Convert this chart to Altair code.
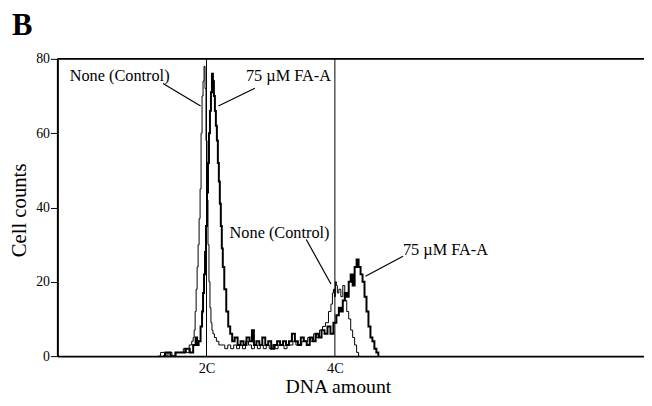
import altair as alt
import pandas as pd

# ---- data (channel units along the DNA axis, counts on y) ----
ctrl_ch = [100, 105, 108, 112, 116, 120, 124, 127, 130, 133, 135, 136, 137, 138, 139, 140, 141, 142, 143, 144,
           145, 146, 147, 148, 149, 150, 151, 152, 153, 154, 155, 156, 158, 160,
           163, 166, 169, 172, 175, 178, 181, 184, 187, 190, 193, 196, 199, 202, 205, 208, 211, 214, 217, 220,
           223, 226, 229, 232, 235, 238, 241, 244, 247, 250, 253, 256, 259, 262, 265, 268, 271, 274,
           276, 277, 278, 279, 280, 281, 282, 284, 286, 288, 290, 292, 294, 296, 298, 300, 302, 304]
ctrl_n = [0, 1, 0, 1, 0, 1, 1, 2, 1, 3, 4, 5, 7, 12, 18, 24, 30, 37, 45, 60,
          70, 74, 78, 72, 58, 42, 30, 20, 13, 9, 7, 6, 5, 4,
          3, 3, 2, 3, 2, 3, 2, 3, 2, 4, 3, 2, 3, 2, 3, 2, 3, 2, 3, 2,
          3, 3, 2, 3, 3, 4, 3, 3, 4, 4, 5, 4, 6, 5, 7, 8, 9, 12,
          14, 17, 18, 16, 20, 19, 17, 18, 16, 19, 15, 12, 10, 7, 5, 3, 1, 0]

faa_ch = [105, 110, 115, 120, 125, 130, 134, 137, 139, 140, 142, 144, 145, 146, 147, 148, 149, 150, 151, 152,
          153, 154, 155, 156, 157, 158, 159, 160, 161, 162, 163, 164, 165, 166, 168, 170, 172, 174, 176,
          179, 182, 185, 188, 191, 194, 196, 198, 201, 204, 207, 210, 213, 216, 219, 222, 225, 228, 231, 234,
          237, 240, 243, 246, 249, 252, 255, 258, 261, 264, 267, 270, 273, 276, 279, 282, 284, 286, 288, 290,
          292, 294, 296, 298, 300, 302, 304, 306, 308, 310, 312, 314, 316, 318, 320, 322, 324]
faa_n = [0, 1, 0, 1, 1, 2, 1, 3, 5, 3, 4, 8, 12, 17, 22, 28, 35, 44, 52, 60,
         66, 71, 76, 74, 70, 66, 62, 58, 52, 47, 41, 35, 29, 24, 18, 12, 8, 6, 4,
         5, 3, 4, 3, 5, 4, 7, 3, 4, 3, 5, 3, 4, 2, 3, 4, 3, 4, 3, 4,
         6, 4, 3, 5, 4, 3, 5, 4, 6, 5, 7, 6, 8, 6, 9, 11, 13, 12, 15, 17,
         16, 20, 22, 19, 24, 26, 24, 22, 20, 16, 12, 8, 5, 4, 2, 1, 0]

ref_ch = [151, 281]
ref_lbl = ["2C", "4C"]
y_ticks = [0, 20, 40, 60, 80]

ann_text = ["None (Control)", "75 \u00b5M FA-A", "None (Control)", "75 \u00b5M FA-A"]
ann_x = [63, 234, 225, 393]
ann_y = [75.5, 75.3, 33.2, 28.5]
lead_x1 = [107, 200, 252, 350]
lead_y1 = [73.4, 72.1, 31.4, 26.9]
lead_x2 = [145, 163, 277, 312]
lead_y2 = [67.3, 67.3, 19.4, 21.5]

X_MAX = 594
Y_MAX = 80
FONT = "Liberation Serif"

ctrl_df = pd.DataFrame({"ch": [c + 2 for c in ctrl_ch], "n": ctrl_n})
faa_df = pd.DataFrame({"ch": [c + 2 for c in faa_ch], "n": faa_n})
ref_df = pd.DataFrame({"ch": ref_ch, "lbl": ref_lbl})
ann_df = pd.DataFrame({"t": ann_text, "x": ann_x, "y": ann_y})
lead_df = pd.DataFrame({"x": lead_x1, "y": lead_y1, "x2": lead_x2, "y2": lead_y2})
frame_df = pd.DataFrame({"x": [0], "x2": [X_MAX], "y": [Y_MAX]})

label_expr = " : ".join(
    [f"datum.value == {c} ? '{l}'" for c, l in zip(ref_ch, ref_lbl)] + ["''"]
)

xs = alt.Scale(domain=[0, X_MAX], nice=False, zero=False)
ys = alt.Scale(domain=[0, Y_MAX], nice=False)

x_axis = alt.Axis(
    title="DNA amount", values=ref_ch, labelExpr=label_expr, ticks=False,
    grid=False, domainColor="black", domainWidth=2, labelFont=FONT, labelFontSize=14.5,
    labelColor="black", labelPadding=6, titleFont=FONT, titleFontSize=20,
    titleFontWeight="normal", titleColor="black", titleX=284, titleY=37,
    titleBaseline="alphabetic", titleAlign="center",
)
y_axis = alt.Axis(
    title="Cell counts", values=y_ticks, grid=False, domainColor="black", domainWidth=2,
    tickColor="black", tickSize=7, tickWidth=1, labelFont=FONT, labelFontSize=14,
    labelColor="black", labelPadding=1, titleFont=FONT, titleFontSize=21,
    titleFontWeight="normal", titleColor="black", titleX=-38, titleY=153,
    titleBaseline="middle", titleAlign="center", titleAngle=-90,
)

ctrl_line = alt.Chart(ctrl_df).mark_line(interpolate="step", color="black", strokeWidth=1).encode(
    x=alt.X("ch:Q", scale=xs, axis=x_axis),
    y=alt.Y("n:Q", scale=ys, axis=y_axis),
)
faa_line = alt.Chart(faa_df).mark_line(interpolate="step", color="black", strokeWidth=2).encode(
    x=alt.X("ch:Q", scale=xs),
    y=alt.Y("n:Q", scale=ys),
)
ref_rules = alt.Chart(ref_df).mark_rule(color="black", strokeWidth=1).encode(
    x=alt.X("ch:Q", scale=xs),
)
frame = alt.Chart(frame_df).mark_rule(color="black", strokeWidth=2).encode(
    x=alt.X("x:Q", scale=xs), x2="x2:Q", y=alt.Y("y:Q", scale=ys)
)
leaders = alt.Chart(lead_df).mark_rule(color="black", strokeWidth=1.2).encode(
    x=alt.X("x:Q", scale=xs), y=alt.Y("y:Q", scale=ys), x2="x2:Q", y2="y2:Q"
)
texts = alt.Chart(ann_df).mark_text(
    font=FONT, fontSize=16.5, color="black", align="center", baseline="middle"
).encode(x=alt.X("x:Q", scale=xs), y=alt.Y("y:Q", scale=ys), text="t:N")
panel = alt.Chart(pd.DataFrame({"t": ["B"]})).mark_text(
    font=FONT, fontSize=31, fontWeight="bold", color="black", align="left", baseline="alphabetic"
).encode(x=alt.value(-46), y=alt.value(-24), text="t:N")

chart = alt.layer(ref_rules, ctrl_line, faa_line, frame, leaders, texts, panel).properties(
    width=X_MAX, height=301,
    autosize=alt.AutoSizeParams(type="none"),
    padding={"left": 50, "top": 49, "right": 0, "bottom": 48},
).configure_view(stroke=None).configure(font=FONT)

chart.save("out.html", embed_options={"renderer": "svg", "actions": False})
